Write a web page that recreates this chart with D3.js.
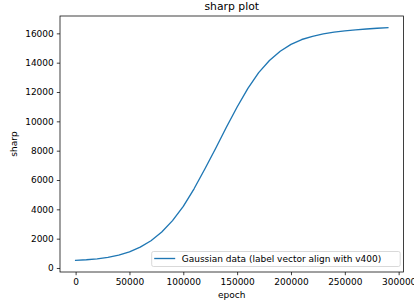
<!DOCTYPE html>
<html>
<head>
<meta charset="utf-8">
<script src="https://cdn.jsdelivr.net/npm/d3@7"></script>
<style>
  body { margin: 0; background: #fff; }
  svg { display: block; font-family: "DejaVu Sans", sans-serif; }
</style>
</head>
<body>
<svg id="chart"></svg>
<script>
// Data
const epochs = [0, 10000, 20000, 30000, 40000, 50000, 60000, 70000, 80000, 90000,
  100000, 110000, 120000, 130000, 140000, 150000, 160000, 170000, 180000, 190000,
  200000, 210000, 220000, 230000, 240000, 250000, 260000, 270000, 280000, 290000];
const sharp = [520, 560, 620, 720, 880, 1100, 1420, 1860, 2450, 3230,
  4200, 5400, 6750, 8150, 9600, 10980, 12250, 13320, 14150, 14780,
  15250, 15580, 15800, 15960, 16080, 16170, 16240, 16300, 16350, 16390];
const xTicks = [0, 50000, 100000, 150000, 200000, 250000, 300000];
const yTicks = [0, 2000, 4000, 6000, 8000, 10000, 12000, 14000, 16000];
const seriesName = "Gaussian data (label vector align with v400)";

// Set the dimensions of the canvas / graph
const W = 414, H = 307;
const margin = { top: 16, right: 10.5, bottom: 35, left: 60 };
const width = W - margin.left - margin.right;
const height = H - margin.top - margin.bottom;

const svg = d3.select("#chart")
  .attr("width", W)
  .attr("height", H)
  .append("g")
  .attr("transform", "translate(" + margin.left + "," + margin.top + ")");

// matplotlib style 5% padding on the data range
function padded(ext) {
  const p = (ext[1] - ext[0]) * 0.05;
  return [ext[0] - p, ext[1] + p];
}

const x = d3.scaleLinear()
  .domain(padded(d3.extent(epochs)))
  .range([0, width]);

const y = d3.scaleLinear()
  .domain(padded(d3.extent(sharp)))
  .range([height, 0]);

// Axes
const xAxis = svg.append("g")
  .attr("transform", "translate(0," + height + ")")
  .call(d3.axisBottom(x).tickValues(xTicks).tickFormat(d3.format("d")).tickSize(3.2).tickPadding(3));

const yAxis = svg.append("g")
  .call(d3.axisLeft(y).tickValues(yTicks).tickFormat(d3.format("d")).tickSize(3.2).tickPadding(3));

[xAxis, yAxis].forEach(a => {
  a.select(".domain").remove();
  a.selectAll("line").attr("stroke", "#000").attr("stroke-width", 0.75);
  a.selectAll("text")
    .attr("fill", "#000")
    .style("font-family", "DejaVu Sans")
    .style("font-size", "9px");
});

// Spines
svg.append("rect")
  .attr("x", 0)
  .attr("y", 0)
  .attr("width", width)
  .attr("height", height)
  .attr("fill", "none")
  .attr("stroke", "#000")
  .attr("stroke-width", 0.75);

// Line
const data = epochs.map((e, i) => [e, sharp[i]]);
svg.append("path")
  .datum(data)
  .attr("fill", "none")
  .attr("stroke", "#1f77b4")
  .attr("stroke-width", 1.35)
  .attr("stroke-linejoin", "round")
  .attr("stroke-linecap", "square")
  .attr("d", d3.line().x(d => x(d[0])).y(d => y(d[1])));

// Title and axis labels
svg.append("text")
  .attr("x", width / 2)
  .attr("y", -6)
  .style("text-anchor", "middle")
  .style("font-size", "10.8px")
  .text("sharp plot");

svg.append("text")
  .attr("x", width / 2)
  .attr("y", height + 26.3)
  .style("text-anchor", "middle")
  .style("font-size", "9px")
  .text("epoch");

svg.append("text")
  .attr("transform", "rotate(-90)")
  .attr("x", -height / 2)
  .attr("y", 16.5 - margin.left)
  .style("text-anchor", "middle")
  .style("font-size", "9px")
  .text("sharp");

// Legend
const legend = svg.append("g")
  .attr("transform", "translate(" + (151.7 - margin.left) + "," + (251.5 - margin.top) + ")");

legend.append("rect")
  .attr("width", 248.5)
  .attr("height", 15)
  .attr("rx", 1.8)
  .attr("fill", "#fff")
  .attr("fill-opacity", 0.8)
  .attr("stroke", "#cccccc")
  .attr("stroke-width", 0.75);

legend.append("line")
  .attr("x1", 2.5)
  .attr("x2", 23.5)
  .attr("y1", 7)
  .attr("y2", 7)
  .attr("stroke", "#1f77b4")
  .attr("stroke-width", 1.35);

legend.append("text")
  .attr("x", 30)
  .attr("y", 10.3)
  .style("font-size", "9px")
  .text(seriesName);
</script>
</body>
</html>
